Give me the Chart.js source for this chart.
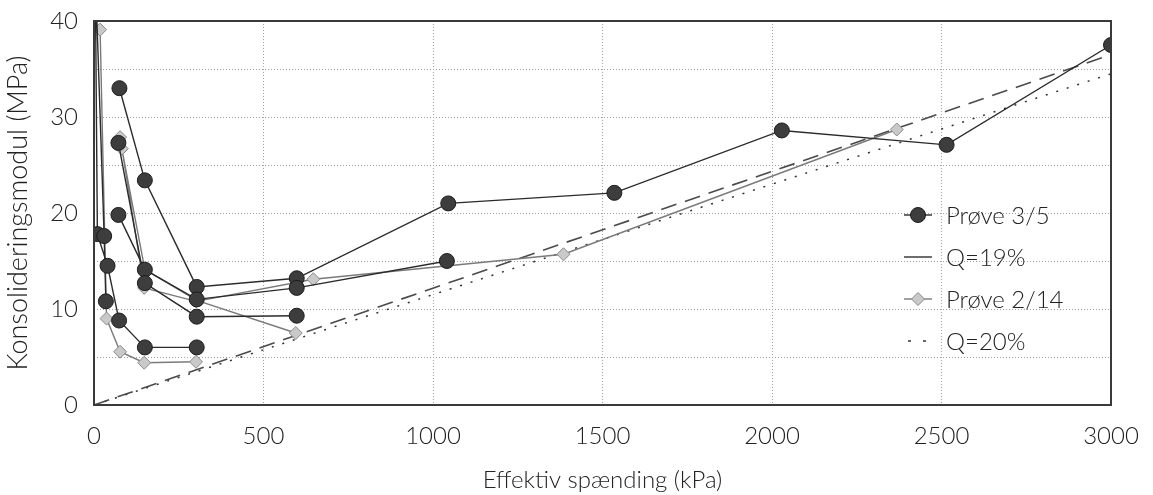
<!DOCTYPE html>
<html lang="da">
<head>
<meta charset="UTF-8" />
<title>Konsolideringsmodul</title>
<style>
  html, body { margin: 0; padding: 0; background: #fff; }
  .wrap { position: relative; width: 1153px; height: 495px; }
</style>
</head>
<body>
<div class="wrap"><canvas id="chart"></canvas></div>
<script src="https://cdn.jsdelivr.net/npm/chart.js"></script>
<script>
// Prøve 3/5 - each load curve is its own pair of arrays
const p35a_x = [75, 150, 303, 598, 1045, 1535, 2029, 2515, 3000];
const p35a_y = [33.0, 23.4, 12.3, 13.2, 21.0, 22.1, 28.6, 27.1, 37.5];
const p35b_x = [3, 10, 40, 74, 150, 303];
const p35b_y = [48, 17.8, 14.5, 8.8, 6.0, 6.0];
const p35c_x = [1, 30, 35];
const p35c_y = [48, 17.6, 10.8];
const p35d_x = [72, 150, 303, 598, 1041];
const p35d_y = [19.8, 14.1, 11.0, 12.2, 15.0];
const p35e_x = [72, 150, 303, 598];
const p35e_y = [27.3, 12.7, 9.2, 9.3];

// Prøve 2/14
const p214a_x = [18, 37, 77, 148, 301];
const p214a_y = [39.1, 9.0, 5.55, 4.4, 4.5];
const p214b_x = [77, 148, 301, 647, 1385, 2368];
const p214b_y = [27.9, 12.2, 10.8, 13.1, 15.7, 28.7];
const p214c_x = [82, 150, 303, 595];
const p214c_y = [26.7, 14.1, 10.9, 7.5];

// Q lines
const q19_x = [0, 3000];
const q19_y = [0, 36.5];
const q20_x = [0, 3000];
const q20_y = [0, 34.5];

const legendLabels = ['Prøve 3/5', 'Q=19%', 'Prøve 2/14', 'Q=20%'];

const FONT = 'Lato';
const WEIGHT = 300;

// join several curves into one dataset, broken by null points
function curves(...pairs) {
  const out = [];
  pairs.forEach(([xs, ys], i) => {
    if (i > 0) out.push({ x: xs[0], y: null });
    xs.forEach((x, j) => out.push({ x: x, y: ys[j] }));
  });
  return out;
}

const circleStyle = {
  borderColor: '#2b2b2b', borderWidth: 1.4,
  pointStyle: 'circle', pointRadius: 7.5, pointHoverRadius: 7.5,
  pointBackgroundColor: '#3d3d3d', pointBorderColor: '#1c1c1c', pointBorderWidth: 1,
  clip: 0,
};
const diamondStyle = {
  borderColor: '#7a7a7a', borderWidth: 1.4,
  pointStyle: 'rectRot', pointRadius: 6.5, pointHoverRadius: 6.5,
  pointBackgroundColor: '#c9c9c9', pointBorderColor: '#8a8a8a', pointBorderWidth: 1,
  clip: 0,
};

const data = {
  datasets: [
    Object.assign({
      label: legendLabels[0],
      data: curves([p35a_x, p35a_y], [p35b_x, p35b_y], [p35c_x, p35c_y], [p35d_x, p35d_y], [p35e_x, p35e_y]),
      order: 1,
    }, circleStyle),
    {
      label: legendLabels[1],
      data: curves([q19_x, q19_y]),
      borderColor: '#4a4a4a', borderWidth: 1.6, borderDash: [16, 9],
      pointRadius: 0, order: 3,
    },
    Object.assign({
      label: legendLabels[2],
      data: curves([p214a_x, p214a_y], [p214b_x, p214b_y], [p214c_x, p214c_y]),
      order: 2,
    }, diamondStyle),
    {
      label: legendLabels[3],
      data: curves([q20_x, q20_y]),
      borderColor: '#333', borderWidth: 1.5, borderDash: [2, 9],
      pointRadius: 0, order: 4,
    },
  ],
};

// frame round the plot area
const framePlugin = {
  id: 'frame',
  afterDraw(chart) {
    const { ctx, chartArea: a } = chart;
    ctx.save();
    ctx.strokeStyle = '#3a3a3a';
    ctx.lineWidth = 2;
    ctx.strokeRect(a.left, a.top, a.right - a.left, a.bottom - a.top);
    ctx.restore();
  },
};

// legend sits inside the plot, right side
const legendPlugin = {
  id: 'innerLegend',
  afterDraw(chart) {
    const { ctx, chartArea: a } = chart;
    const x0 = a.right - 207;
    const y0 = a.top + 194;
    const rowH = 42;
    ctx.save();
    ctx.font = WEIGHT + ' 24px ' + FONT;
    ctx.textBaseline = 'middle';
    legendLabels.forEach((txt, i) => {
      const ds = chart.data.datasets[i];
      const y = y0 + i * rowH;
      ctx.strokeStyle = ds.borderColor;
      ctx.lineWidth = ds.borderWidth;
      if (ds.borderDash && ds.borderDash[0] < 5) {
        ctx.setLineDash([3, 12]);
        ctx.lineDashOffset = -4;
      } else {
        ctx.setLineDash([]);
      }
      ctx.beginPath();
      ctx.moveTo(x0, y);
      ctx.lineTo(x0 + 28, y);
      ctx.stroke();
      ctx.setLineDash([]);
      if (ds.pointRadius) {
        ctx.fillStyle = ds.pointBackgroundColor;
        ctx.strokeStyle = ds.pointBorderColor;
        ctx.lineWidth = ds.pointBorderWidth;
        ctx.beginPath();
        if (ds.pointStyle === 'circle') {
          ctx.arc(x0 + 14, y, ds.pointRadius, 0, Math.PI * 2);
        } else {
          const r = ds.pointRadius;
          ctx.moveTo(x0 + 14, y - r); ctx.lineTo(x0 + 14 + r, y);
          ctx.lineTo(x0 + 14, y + r); ctx.lineTo(x0 + 14 - r, y);
          ctx.closePath();
        }
        ctx.fill();
        ctx.stroke();
      }
      ctx.fillStyle = '#222';
      ctx.fillText(txt, x0 + 42, y + 1);
    });
    ctx.restore();
  },
};

new Chart(document.getElementById('chart'), {
  type: 'line',
  data: data,
  options: {
    responsive: true,
    maintainAspectRatio: false,
    animation: false,
    spanGaps: false,
    layout: { padding: { top: 21, right: 42, left: 0, bottom: 0 } },
    plugins: {
      legend: { display: false },
      tooltip: { enabled: false },
    },
    elements: { line: { tension: 0 } },
    scales: {
      x: {
        type: 'linear',
        min: 0, max: 3000,
        afterFit(scale) { scale.height = 90; scale.paddingRight = 0; scale.paddingLeft = 0; },
        ticks: {
          stepSize: 500, color: '#222', padding: 17, font: { family: FONT, size: 24, weight: WEIGHT },
          callback: (v) => String(v),
        },
        grid: { color: '#a0a0a0', lineWidth: 1, drawTicks: false },
        border: { display: false, dash: [1, 2] },
        title: {
          display: true, text: 'Effektiv spænding (kPa)', color: '#222',
          font: { family: FONT, size: 24, weight: WEIGHT }, padding: { top: 0, bottom: 0 },
        },
      },
      y: {
        min: 0, max: 40,
        afterFit(scale) { scale.width = 94; scale.paddingTop = 0; scale.paddingBottom = 0; },
        ticks: {
          stepSize: 5, color: '#222', padding: 16, font: { family: FONT, size: 24, weight: WEIGHT },
          callback: (v) => (v % 10 === 0 ? String(v) : ''),
        },
        grid: { color: '#a0a0a0', lineWidth: 1, drawTicks: false },
        border: { display: false, dash: [1, 2] },
        title: {
          display: true, text: 'Konsolideringsmodul (MPa)', color: '#222',
          font: { family: FONT, size: 27, weight: WEIGHT }, padding: { top: 2, bottom: 0 },
        },
      },
    },
  },
  plugins: [framePlugin, legendPlugin],
});
</script>
</body>
</html>
